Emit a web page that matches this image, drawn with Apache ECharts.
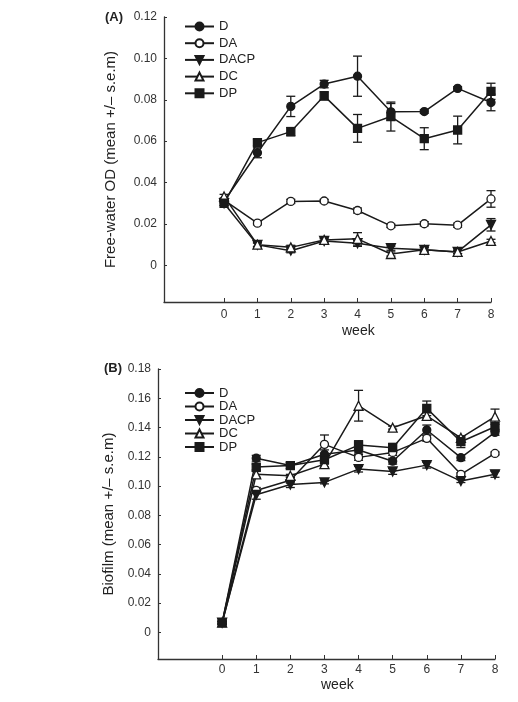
<!DOCTYPE html>
<html>
<head>
<meta charset="utf-8">
<script src="https://cdn.jsdelivr.net/npm/echarts@6/dist/echarts.min.js"></script>
<style>
  html, body { margin: 0; padding: 0; background: #fff; }
  #box { width: 518px; height: 702px; }
</style>
</head>
<body>
<div id="box"></div>
<script>
// weeks on the x axis
var weeks = [0, 1, 2, 3, 4, 5, 6, 7, 8];
var names = ['D', 'DA', 'DACP', 'DC', 'DP'];

// (A) free-water OD, mean and s.e.m
var odD      = [0.0310, 0.0544, 0.0768, 0.0876, 0.0914, 0.0742, 0.0743, 0.0855, 0.0787];
var odDErr   = [0.0010, 0.0024, 0.0049, 0.0018, 0.0097, 0.0040, 0.0008, 0.0008, 0.0040];
var odDA     = [0.0315, 0.0204, 0.0309, 0.0311, 0.0265, 0.0191, 0.0201, 0.0194, 0.0321];
var odDAErr  = [0.0010, 0.0008, 0.0010, 0.0008, 0.0012, 0.0008, 0.0010, 0.0010, 0.0040];
var odDACP   = [0.0300, 0.0099, 0.0071, 0.0118, 0.0107, 0.0083, 0.0075, 0.0065, 0.0196];
var odDACPErr= [0.0010, 0.0010, 0.0010, 0.0010, 0.0015, 0.0010, 0.0010, 0.0008, 0.0030];
var odDC     = [0.0333, 0.0100, 0.0087, 0.0123, 0.0128, 0.0055, 0.0075, 0.0065, 0.0118];
var odDCErr  = [0.0010, 0.0008, 0.0010, 0.0010, 0.0030, 0.0010, 0.0010, 0.0008, 0.0008];
var odDP     = [0.0300, 0.0593, 0.0646, 0.0819, 0.0662, 0.0719, 0.0612, 0.0654, 0.0841];
var odDPErr  = [0.0010, 0.0015, 0.0020, 0.0020, 0.0067, 0.0070, 0.0053, 0.0067, 0.0039];

// (B) biofilm, mean and s.e.m
var bfD      = [0.0066, 0.1190, 0.1140, 0.1217, 0.1246, 0.1170, 0.1383, 0.1194, 0.1367];
var bfDErr   = [0.0010, 0.0020, 0.0020, 0.0030, 0.0020, 0.0020, 0.0034, 0.0020, 0.0020];
var bfDA     = [0.0066, 0.0970, 0.1040, 0.1285, 0.1196, 0.1230, 0.1326, 0.1080, 0.1223];
var bfDAErr  = [0.0010, 0.0020, 0.0020, 0.0064, 0.0020, 0.0020, 0.0020, 0.0010, 0.0010];
var bfDACP   = [0.0066, 0.0940, 0.1010, 0.1025, 0.1116, 0.1100, 0.1143, 0.1034, 0.1080];
var bfDACPErr= [0.0010, 0.0030, 0.0020, 0.0010, 0.0020, 0.0020, 0.0020, 0.0010, 0.0020];
var bfDC     = [0.0066, 0.1080, 0.1070, 0.1150, 0.1549, 0.1399, 0.1480, 0.1330, 0.1474];
var bfDCErr  = [0.0010, 0.0020, 0.0010, 0.0020, 0.0105, 0.0010, 0.0020, 0.0010, 0.0052];
var bfDP     = [0.0066, 0.1130, 0.1140, 0.1180, 0.1280, 0.1262, 0.1531, 0.1303, 0.1405];
var bfDPErr  = [0.0010, 0.0020, 0.0020, 0.0030, 0.0030, 0.0030, 0.0050, 0.0040, 0.0030];

// tick labels
var odTicks = [0, 0.02, 0.04, 0.06, 0.08, 0.10, 0.12];
var bfTicks = [0, 0.02, 0.04, 0.06, 0.08, 0.10, 0.12, 0.14, 0.16, 0.18];

window.onload = function () {
    var myChart = echarts.init(document.getElementById('box'));
    var ink = '#1a1a1a';
    var font = "'Liberation Sans', Arial, sans-serif";

    // marker look per series
    var looks = {
        D:    { symbol: 'circle', size: 8, fill: ink },
        DA:   { symbol: 'circle', size: 8, fill: '#fff' },
        DACP: { symbol: 'path://M0,0L10,0L5,9Z', size: 9, fill: ink },
        DC:   { symbol: 'triangle', size: 9, fill: '#fff' },
        DP:   { symbol: 'rect', size: 8, fill: ink }
    };

    function pairs(vals) {
        return weeks.map(function (w, i) { return [w, vals[i]]; });
    }
    function bars(vals, errs) {
        return weeks.map(function (w, i) { return [w, vals[i] - errs[i], vals[i] + errs[i]]; });
    }

    // vertical error bar with caps
    function renderBar(params, api) {
        var x = api.value(0);
        var lo = api.coord([x, api.value(1)]);
        var hi = api.coord([x, api.value(2)]);
        var w = 4.5;
        var st = { stroke: ink, lineWidth: 1.3 };
        return {
            type: 'group',
            children: [
                { type: 'line', shape: { x1: lo[0], y1: lo[1], x2: hi[0], y2: hi[1] }, style: st },
                { type: 'line', shape: { x1: hi[0] - w, y1: hi[1], x2: hi[0] + w, y2: hi[1] }, style: st },
                { type: 'line', shape: { x1: lo[0] - w, y1: lo[1], x2: lo[0] + w, y2: lo[1] }, style: st }
            ]
        };
    }

    var panels = [
        { vals: [odD, odDA, odDACP, odDC, odDP], errs: [odDErr, odDAErr, odDACPErr, odDCErr, odDPErr] },
        { vals: [bfD, bfDA, bfDACP, bfDC, bfDP], errs: [bfDErr, bfDAErr, bfDACPErr, bfDCErr, bfDPErr] }
    ];

    var series = [];
    panels.forEach(function (p, gi) {
        names.forEach(function (n, k) {
            series.push({
                name: n + ' err',
                type: 'custom',
                xAxisIndex: gi,
                yAxisIndex: gi,
                renderItem: renderBar,
                encode: { x: 0, y: [1, 2] },
                data: bars(p.vals[k], p.errs[k]),
                z: 2,
                silent: true
            });
        });
        names.forEach(function (n, k) {
            var lk = looks[n];
            series.push({
                name: n,
                type: 'line',
                xAxisIndex: gi,
                yAxisIndex: gi,
                data: pairs(p.vals[k]),
                symbol: lk.symbol,
                symbolSize: lk.size,
                showAllSymbol: true,
                lineStyle: { color: ink, width: 1.5 },
                itemStyle: { color: lk.fill, borderColor: ink, borderWidth: 1.3 },
                z: 3,
                animation: false
            });
        });
    });

    function yAxis(gi, min, max, ticks, title, gap) {
        return {
            type: 'value',
            gridIndex: gi,
            min: min,
            max: max,
            splitLine: { show: false },
            axisLine: { show: true, onZero: false, lineStyle: { color: '#333', width: 1.3 } },
            axisTick: { inside: true, length: 3, customValues: ticks, lineStyle: { color: '#333' } },
            axisLabel: {
                customValues: ticks,
                margin: 7,
                color: '#333',
                fontSize: 12,
                fontFamily: font,
                formatter: function (v) { return v === 0 ? '0' : v.toFixed(2); }
            },
            name: title,
            nameLocation: 'middle',
            nameGap: gap,
            nameTextStyle: { color: '#222', fontSize: 15, fontFamily: font }
        };
    }

    function xAxis(gi, min, margin) {
        return {
            type: 'value',
            gridIndex: gi,
            min: min,
            max: 8,
            splitLine: { show: false },
            axisLine: { onZero: false, lineStyle: { color: '#333', width: 1.3 } },
            axisTick: { inside: true, length: 4, customValues: weeks, lineStyle: { color: '#333' } },
            axisLabel: { customValues: weeks, margin: margin, color: '#333', fontSize: 12, fontFamily: font }
        };
    }

    function legend(top, gap) {
        return {
            data: names,
            orient: 'vertical',
            left: 179,
            top: top,
            itemWidth: 29,
            itemHeight: 10,
            itemGap: gap,
            selectedMode: false,
            textStyle: { color: '#222', fontSize: 13, lineHeight: 13, fontFamily: font }
        };
    }

    var option = {
        animation: false,
        textStyle: { fontFamily: font },
        grid: [
            { left: 164, top: 17, width: 327, height: 285 },
            { left: 158, top: 369, width: 337, height: 290 }
        ],
        xAxis: [xAxis(0, -1.8, 7), xAxis(1, -1.88, 5)],
        yAxis: [
            yAxis(0, -0.0177, 0.12, odTicks, 'Free-water OD (mean +/\u2013 s.e.m)', 46),
            yAxis(1, -0.0182, 0.18, bfTicks, 'Biofilm (mean +/\u2013 s.e.m)', 41)
        ],
        legend: [legend(15, 3.7), legend(381.5, 0.5)],
        graphic: [
            { type: 'text', left: 105, top: 11, style: { text: '(A)', font: 'bold 13px ' + font, fill: '#222' } },
            { type: 'text', left: 104, top: 362, style: { text: '(B)', font: 'bold 13px ' + font, fill: '#222' } },
            { type: 'text', left: 342, top: 324, style: { text: 'week', font: '14px ' + font, fill: '#222' } },
            { type: 'text', left: 321, top: 678, style: { text: 'week', font: '14px ' + font, fill: '#222' } }
        ],
        series: series
    };
    myChart.setOption(option);
};
</script>
</body>
</html>
